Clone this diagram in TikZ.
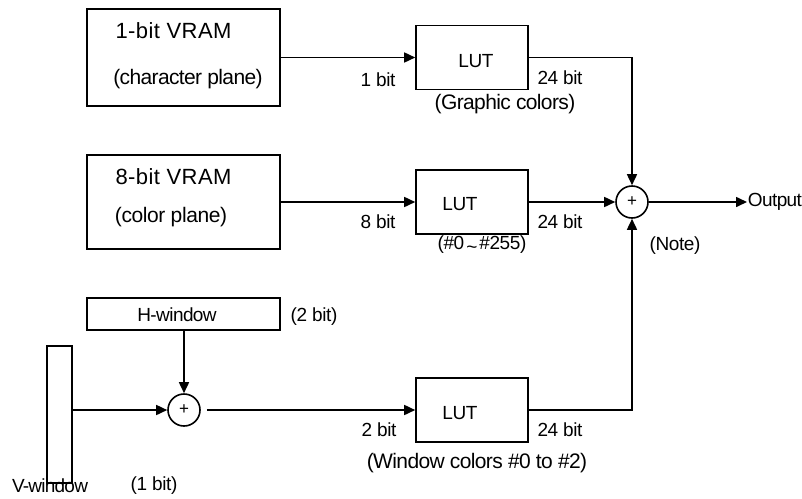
\documentclass[tikz,border=0pt]{standalone}
\usepackage{fontspec}
\setmainfont{Liberation Sans}
\newfontfamily\titlefont[LetterSpace=2]{Liberation Sans}
\newfontfamily\tightfont[LetterSpace=-3]{Liberation Sans}
\newfontfamily\lblfont[LetterSpace=-2]{Liberation Sans}
\newfontfamily\vtightfont[LetterSpace=-4]{Liberation Sans}
\usetikzlibrary{arrows.meta}
\begin{document}
\begin{tikzpicture}[x=1pt,y=-1pt,
  line width=1.6pt,
  blk/.style={draw, line width=1.6pt, inner sep=0pt},
  sumc/.style={draw, circle, line width=1.6pt, minimum size=32pt, inner sep=0pt, font=\fontsize{17}{17}\selectfont},
  lbl/.style={inner sep=0pt, font=\lblfont\fontsize{19}{19}\selectfont},
  plbl/.style={inner sep=0pt, font=\tightfont\fontsize{21}{21}\selectfont},
  ttl/.style={inner sep=0pt, font=\titlefont\fontsize{22}{22}\selectfont},
  arr/.style={-{Triangle[length=11pt,width=10pt]}, line width=1.6pt}]
\useasboundingbox (0,0) rectangle (802,498);
% boxes
\node[blk, minimum width=193pt, minimum height=97pt] (vram1) at (183.5,57.5) {};
\node[blk, minimum width=193pt, minimum height=94pt] (vram2) at (183.5,202) {};
\node[blk, minimum width=112pt, minimum height=64pt] (lut1) at (472,57.5) {};
\node[blk, minimum width=112pt, minimum height=64pt] (lut2) at (472,202) {};
\node[blk, minimum width=112pt, minimum height=64pt] (lut3) at (472,410) {};
\node[blk, minimum width=193pt, minimum height=32pt] (hwin) at (183.5,314) {};
\node[blk, minimum width=25pt, minimum height=137pt] (vwin) at (59.5,414.5) {};
\node[sumc] (sum1) at (632,202) {+};
\node[sumc] (sum2) at (184,410) {+};
\node[lbl, font=\tightfont\fontsize{19}{19}\selectfont, anchor=west] (out) at (747,202) {Output};
% texts in boxes
\node[ttl] (t1) at (173.5,31) {1-bit VRAM};
\node[plbl] (t1b) at (188,79) {(character plane)};
\node[ttl] (t2) at (173.5,177) {8-bit VRAM};
\node[plbl, font=\lblfont\fontsize{21}{21}\selectfont] (t2b) at (171,217) {(color plane)};
\node[lbl] (l1) at (476,61) {LUT};
\node[lbl] (l2) at (460,204) {LUT};
\node[lbl] (l3) at (460,413) {LUT};
\node[lbl, font=\tightfont\fontsize{19}{19}\selectfont] (hw) at (177,315) {H-window};
% labels
\node[lbl] (b1) at (378,80) {1 bit};
\node[lbl] (b8) at (378,222) {8 bit};
\node[lbl] (b2) at (379,430) {2 bit};
\node[lbl] (o1) at (560,78) {24 bit};
\node[lbl] (o2) at (560,222) {24 bit};
\node[lbl] (o3) at (560,430) {24 bit};
\node[plbl] (g1) at (505,104) {(Graphic colors)};
\node[lbl] (g2) at (482,245) {(\#0\hspace{2pt}\raisebox{-4pt}{\textasciitilde}\hspace{2pt}\#255)};
\node[plbl] (g3) at (477,463) {(Window colors \#0 to \#2)};
\node[lbl] (note) at (675,246) {(Note)};
\node[lbl] (hb) at (314,317) {(2 bit)};
\node[lbl, font=\vtightfont\fontsize{19}{19}\selectfont] (vw) at (50,486) {V-window};
\node[lbl] (vb) at (154,486) {(1 bit)};
% connectors
\draw[arr] (vram1.east |- lut1.west) -- (lut1.west);
\draw[arr] (vram2.east |- lut2.west) -- (lut2.west);
\draw[arr] (lut1.east) -| (sum1.north);
\draw[arr] (lut2.east) -- (sum1.west);
\draw[arr] (lut3.east) -| (sum1.south);
\draw[arr] (sum1.east) -- (out.west);
\draw[arr] (hwin.south -| sum2.north) -- (sum2.north);
\draw[arr] (vwin.east |- sum2.west) -- (sum2.west);
\draw[arr, shorten <=6pt] (sum2.east) -- (lut3.west);
\end{tikzpicture}
\end{document}
